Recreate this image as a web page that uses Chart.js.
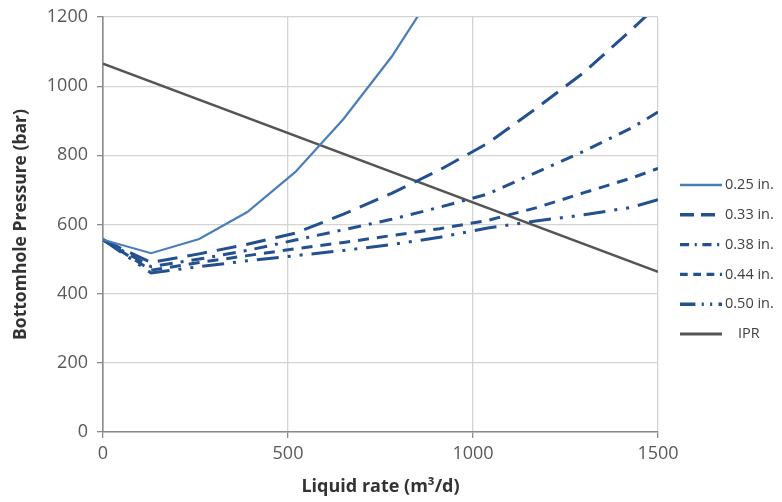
<!DOCTYPE html>
<html>
<head>
<meta charset="utf-8">
<script src="https://cdn.jsdelivr.net/npm/chart.js@4.4.0/dist/chart.umd.min.js"></script>
<style>
  html, body { margin: 0; padding: 0; background: #fff; }
  canvas { display: block; }
</style>
</head>
<body>
<canvas id="chart" width="782" height="502"></canvas>
<script>
// liquid rate (m3/d) at which the tubing curves were computed
const rates = [0, 130, 260, 390, 520, 650, 780, 910, 1040, 1170, 1300, 1430, 1500];

// bottomhole pressure (bar) per tubing size
const p025 = [556, 517, 558, 636, 752, 905, 1085, 1300];
const p033 = [556, 490, 515, 543, 575, 630, 690, 758, 835, 935, 1040, 1165, 1235];
const p038 = [556, 478, 500, 525, 555, 585, 615, 650, 688, 750, 812, 880, 925];
const p044 = [556, 468, 490, 510, 530, 548, 568, 588, 612, 648, 692, 735, 762];
const p050 = [556, 460, 478, 495, 510, 525, 542, 563, 590, 610, 628, 650, 672];

// inflow performance relationship
const iprRates = [0, 1500];
const iprPressure = [1065, 463];

const seriesLabels = ['0.25 in.', '0.33 in.', '0.38 in.', '0.44 in.', '0.50 in.', 'IPR'];

const xTicks = [0, 500, 1000, 1500];
const yTicks = [0, 200, 400, 600, 800, 1000, 1200];

function toPoints(xs, ys) {
  return ys.map((y, i) => ({ x: xs[i], y: y }));
}

const navy = '#23508f';

const datasets = [
  { label: seriesLabels[0], data: toPoints(rates, p025), borderColor: '#4a7ebb', borderWidth: 2.2, borderDash: [] },
  { label: seriesLabels[1], data: toPoints(rates, p033), borderColor: navy, borderWidth: 3, borderDash: [20, 10] },
  { label: seriesLabels[2], data: toPoints(rates, p038), borderColor: navy, borderWidth: 3, borderDash: [13, 8, 3, 8] },
  { label: seriesLabels[3], data: toPoints(rates, p044), borderColor: navy, borderWidth: 3, borderDash: [11, 8] },
  { label: seriesLabels[4], data: toPoints(rates, p050), borderColor: navy, borderWidth: 3, borderDash: [22, 9, 3, 9, 3, 9] },
  { label: seriesLabels[5], data: toPoints(iprRates, iprPressure), borderColor: '#555555', borderWidth: 2.4, borderDash: [] }
];
datasets.forEach(d => {
  d.pointRadius = 0;
  d.fill = false;
  d.tension = 0;
});

// Excel style legend: line sample + label, to the right of the plot
const sideLegend = {
  id: 'sideLegend',
  afterDraw(chart) {
    const ctx = chart.ctx;
    ctx.save();
    ctx.font = '14.5px "Open Sans", sans-serif';
    ctx.fillStyle = '#404040';
    ctx.textBaseline = 'middle';
    chart.data.datasets.forEach((ds, i) => {
      const y = 185 + i * 29.8;
      ctx.beginPath();
      ctx.strokeStyle = ds.borderColor;
      ctx.lineWidth = ds.borderWidth + 0.4;
      ctx.setLineDash(ds.borderDash.map(v => v * 0.7));
      ctx.moveTo(680, y);
      ctx.lineTo(722, y);
      ctx.stroke();
      ctx.setLineDash([]);
      ctx.fillText(ds.label, i === 5 ? 738 : 725, y);
    });
    ctx.restore();
  }
};

const tickFont = { family: '"Open Sans", sans-serif', size: 18 };

new Chart(document.getElementById('chart'), {
  type: 'line',
  data: { datasets: datasets },
  options: {
    responsive: false,
    animation: false,
    layout: { padding: { left: 0, right: 124, top: 17, bottom: 0 } },
    plugins: { legend: { display: false }, tooltip: { enabled: false } },
    scales: {
      x: {
        type: 'linear',
        min: 0,
        max: 1500,
        afterBuildTicks: axis => { axis.ticks = xTicks.map(v => ({ value: v })); },
        afterFit: axis => { axis.height = 70; },
        grid: { color: '#d4d4d4', lineWidth: 1.3, tickLength: 6, tickColor: '#8a8a8a' },
        border: { color: '#8a8a8a', width: 1.6 },
        ticks: { color: '#595959', font: tickFont, padding: 5, maxRotation: 0, callback: v => String(v) },
        title: { display: true, text: 'Liquid rate (m³/d)', color: '#333', font: { family: '"Open Sans", sans-serif', size: 18, weight: 'bold' }, padding: { top: 0, bottom: 4 } }
      },
      y: {
        min: 0,
        max: 1200,
        afterBuildTicks: axis => { axis.ticks = yTicks.map(v => ({ value: v })); },
        afterFit: axis => { axis.width = 103; axis.paddingTop = 9; },
        grid: { color: '#d4d4d4', lineWidth: 1.3, tickLength: 6, tickColor: '#8a8a8a' },
        border: { color: '#8a8a8a', width: 1.6 },
        ticks: { color: '#595959', font: { family: '"Open Sans", sans-serif', size: 18, lineHeight: 1 }, padding: 9, callback: v => String(v) },
        title: { display: true, text: 'Bottomhole Pressure (bar)', color: '#333', font: { family: '"Open Sans", sans-serif', size: 17.5, weight: 'bold' }, padding: { top: 11, bottom: 0 } }
      }
    }
  },
  plugins: [sideLegend]
});
</script>
</body>
</html>
